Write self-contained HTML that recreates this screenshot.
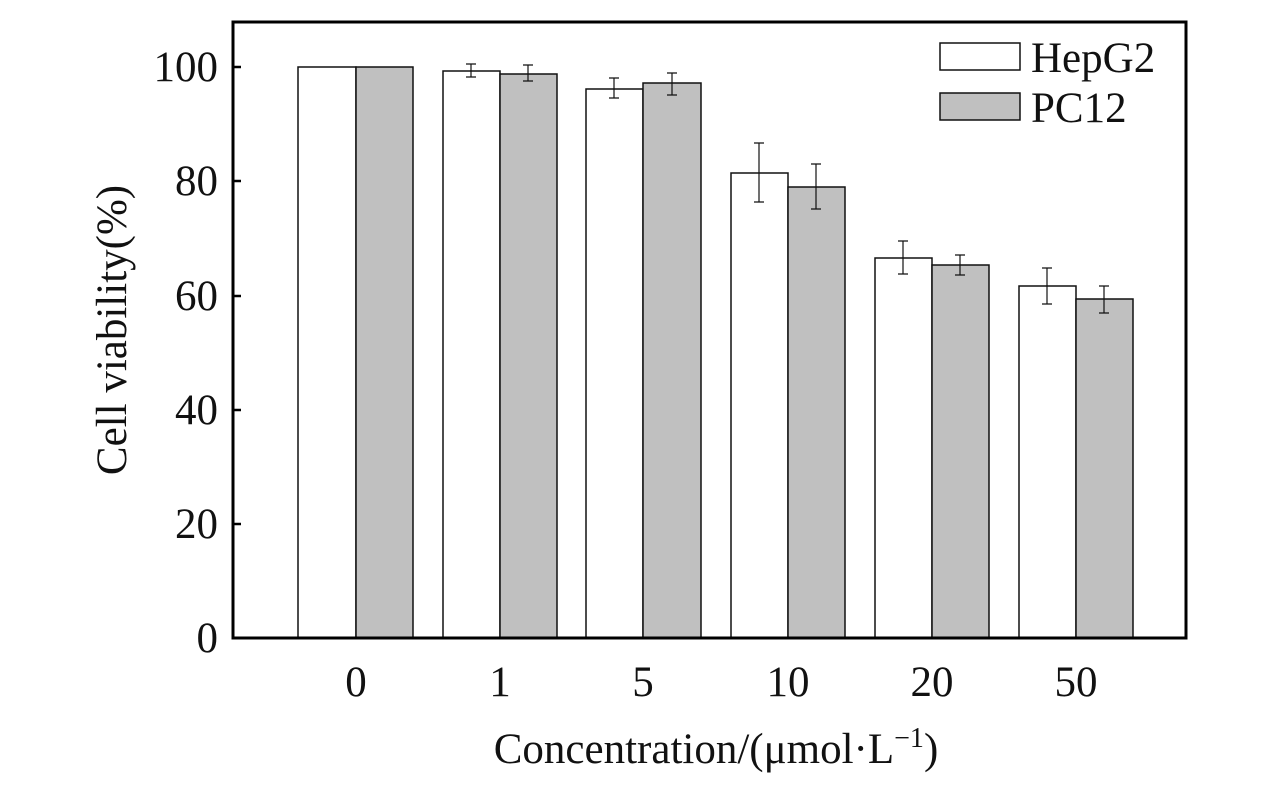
<!DOCTYPE html><html><head><style>body{margin:0;background:#fff}</style></head><body>
<svg width="1276" height="787" xmlns="http://www.w3.org/2000/svg" font-family="Liberation Serif, serif" fill="#111">
<rect x="0" y="0" width="1276" height="787" fill="#fff"/>
<g stroke="#111" stroke-width="1.5">
<rect x="298" y="67" width="58" height="571" fill="#fff"/><rect x="356" y="67" width="57" height="571" fill="#c0c0c0"/>
<rect x="443" y="71" width="57" height="567" fill="#fff"/><rect x="500" y="74" width="57" height="564" fill="#c0c0c0"/>
<rect x="586" y="89" width="57" height="549" fill="#fff"/><rect x="643" y="83" width="58" height="555" fill="#c0c0c0"/>
<rect x="731" y="173" width="57" height="465" fill="#fff"/><rect x="788" y="187" width="57" height="451" fill="#c0c0c0"/>
<rect x="875" y="258" width="57" height="380" fill="#fff"/><rect x="932" y="265" width="57" height="373" fill="#c0c0c0"/>
<rect x="1019" y="286" width="57" height="352" fill="#fff"/><rect x="1076" y="299" width="57" height="339" fill="#c0c0c0"/>
</g>
<g stroke="#111" stroke-width="1.2" fill="none">
<path d="M471 64V77M466 64H476M466 77H476"/>
<path d="M528 65V81M523 65H533M523 81H533"/>
<path d="M614 78V98M609 78H619M609 98H619"/>
<path d="M672 73V95M667 73H677M667 95H677"/>
<path d="M759 143V202M754 143H764M754 202H764"/>
<path d="M816 164V209M811 164H821M811 209H821"/>
<path d="M903 241V274M898 241H908M898 274H908"/>
<path d="M960 255V275M955 255H965M955 275H965"/>
<path d="M1047 268V304M1042 268H1052M1042 304H1052"/>
<path d="M1104 286V313M1099 286H1109M1099 313H1109"/>
</g>
<rect x="233" y="22" width="953" height="616" fill="none" stroke="#000" stroke-width="3"/>
<g stroke="#000" stroke-width="2.5">
<path d="M233 524h8M233 410h8M233 296h8M233 181h8M233 67h8"/>
</g>
<g font-size="43" text-anchor="end">
<text x="218" y="652">0</text><text x="218" y="538">20</text><text x="218" y="424">40</text><text x="218" y="310">60</text><text x="218" y="195">80</text><text x="218" y="81">100</text>
</g>
<g font-size="43" text-anchor="middle">
<text x="356" y="696">0</text><text x="500" y="696">1</text><text x="643" y="696">5</text><text x="788" y="696">10</text><text x="932" y="696">20</text><text x="1076" y="696">50</text>
<text x="716" y="763">Concentration/(μmol·L<tspan font-size="28" dy="-16">−1</tspan><tspan dy="16">)</tspan></text>
<text transform="translate(126,330) rotate(-90)">Cell viability(%)</text>
</g>
<rect x="940" y="43" width="80" height="27" fill="#fff" stroke="#111" stroke-width="1.5"/>
<rect x="940" y="93" width="80" height="27" fill="#c0c0c0" stroke="#111" stroke-width="1.5"/>
<text x="1031" y="72" font-size="43">HepG2</text>
<text x="1031" y="122" font-size="43">PC12</text>
</svg>
</body></html>
